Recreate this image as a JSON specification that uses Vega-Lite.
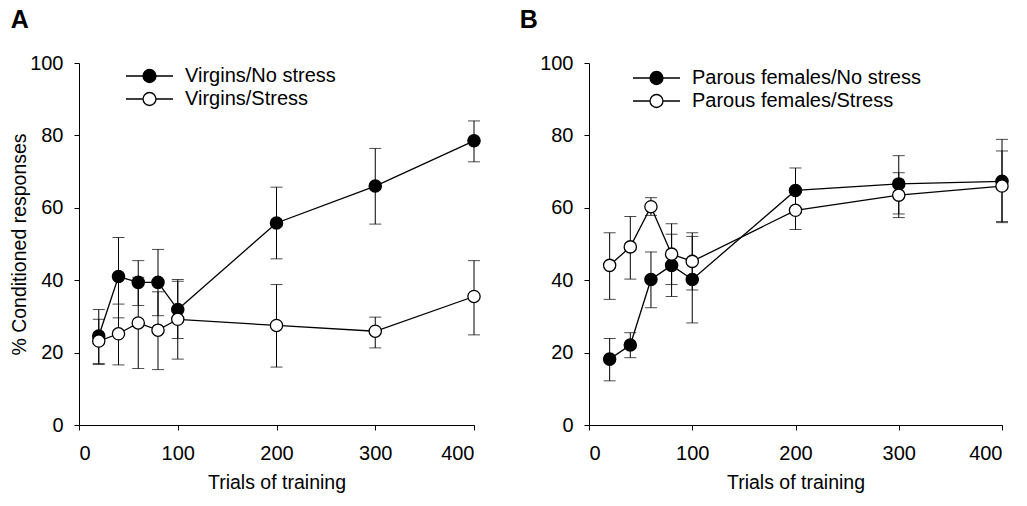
{
  "$schema": "https://vega.github.io/schema/vega-lite/v6.json",
  "padding": {"left": 9, "top": 8, "right": 5, "bottom": 5},
  "background": "white",
  "datasets": {
    "A": [
      {"trials": 20, "group": "Virgins/No stress", "mean": 24.6, "lo": 17.0, "hi": 31.9},
      {"trials": 40, "group": "Virgins/No stress", "mean": 41.0, "lo": 29.6, "hi": 51.8},
      {"trials": 60, "group": "Virgins/No stress", "mean": 39.4, "lo": 33.0, "hi": 45.4},
      {"trials": 80, "group": "Virgins/No stress", "mean": 39.4, "lo": 30.2, "hi": 48.5},
      {"trials": 100, "group": "Virgins/No stress", "mean": 31.9, "lo": 23.9, "hi": 39.7},
      {"trials": 200, "group": "Virgins/No stress", "mean": 55.8, "lo": 45.9, "hi": 65.7},
      {"trials": 300, "group": "Virgins/No stress", "mean": 66.0, "lo": 55.5, "hi": 76.4},
      {"trials": 400, "group": "Virgins/No stress", "mean": 78.5, "lo": 72.7, "hi": 84.0},
      {"trials": 20, "group": "Virgins/Stress", "mean": 23.2, "lo": 16.7, "hi": 29.2},
      {"trials": 40, "group": "Virgins/Stress", "mean": 25.2, "lo": 16.6, "hi": 33.4},
      {"trials": 60, "group": "Virgins/Stress", "mean": 28.2, "lo": 15.6, "hi": 40.8},
      {"trials": 80, "group": "Virgins/Stress", "mean": 26.2, "lo": 15.3, "hi": 36.8},
      {"trials": 100, "group": "Virgins/Stress", "mean": 29.2, "lo": 18.2, "hi": 40.2},
      {"trials": 200, "group": "Virgins/Stress", "mean": 27.5, "lo": 16.0, "hi": 38.8},
      {"trials": 300, "group": "Virgins/Stress", "mean": 25.9, "lo": 21.3, "hi": 29.8},
      {"trials": 400, "group": "Virgins/Stress", "mean": 35.5, "lo": 24.9, "hi": 45.4}
    ],
    "B": [
      {"trials": 20, "group": "Parous females/No stress", "mean": 18.2, "lo": 12.2, "hi": 23.9},
      {"trials": 40, "group": "Parous females/No stress", "mean": 22.1, "lo": 18.6, "hi": 25.5},
      {"trials": 60, "group": "Parous females/No stress", "mean": 40.2, "lo": 32.4, "hi": 47.8},
      {"trials": 80, "group": "Parous females/No stress", "mean": 44.1, "lo": 35.5, "hi": 52.7},
      {"trials": 100, "group": "Parous females/No stress", "mean": 40.2, "lo": 28.2, "hi": 52.1},
      {"trials": 200, "group": "Parous females/No stress", "mean": 64.8, "lo": 58.6, "hi": 71.0},
      {"trials": 300, "group": "Parous females/No stress", "mean": 66.6, "lo": 58.3, "hi": 74.4},
      {"trials": 400, "group": "Parous females/No stress", "mean": 67.3, "lo": 55.9, "hi": 78.9},
      {"trials": 20, "group": "Parous females/Stress", "mean": 44.1, "lo": 34.7, "hi": 53.1},
      {"trials": 40, "group": "Parous females/Stress", "mean": 49.2, "lo": 40.3, "hi": 57.6},
      {"trials": 60, "group": "Parous females/Stress", "mean": 60.3, "lo": 57.9, "hi": 62.8},
      {"trials": 80, "group": "Parous females/Stress", "mean": 47.2, "lo": 38.8, "hi": 55.6},
      {"trials": 100, "group": "Parous females/Stress", "mean": 45.2, "lo": 37.3, "hi": 53.1},
      {"trials": 200, "group": "Parous females/Stress", "mean": 59.3, "lo": 54.0, "hi": 64.6},
      {"trials": 300, "group": "Parous females/Stress", "mean": 63.5, "lo": 57.3, "hi": 69.7},
      {"trials": 400, "group": "Parous females/Stress", "mean": 66.0, "lo": 56.2, "hi": 75.7}
    ]
  },
  "config": {
    "view": {"stroke": null},
    "font": "Liberation Sans",
    "axis": {
      "grid": false,
      "domainColor": "black",
      "domainWidth": 1,
      "tickColor": "black",
      "tickSize": 5,
      "labelFont": "Liberation Sans",
      "labelFontSize": 20,
      "labelColor": "black",
      "titleFont": "Liberation Sans",
      "titleFontSize": 19.5,
      "titleFontWeight": "normal",
      "titleColor": "black"
    },
    "axisX": {"labelPadding": 13, "titlePadding": 10},
    "axisY": {"labelPadding": 11, "titlePadding": 0},
    "legend": {
      "title": null,
      "orient": "none",
      "symbolType": "M -1.96 0 L -0.54 0 M 0.54 0 L 1.96 0 M -0.54 0 A 0.54 0.54 0 1 0 0.54 0 A 0.54 0.54 0 1 0 -0.54 0 Z",
      "symbolSize": 576,
      "symbolStrokeColor": "black",
      "symbolStrokeWidth": 1.3,
      "labelFont": "Liberation Sans",
      "labelFontSize": 20,
      "labelColor": "black",
      "labelOffset": 22.5,
      "labelLimit": 500,
      "rowPadding": 0
    },
    "title": {"font": "Liberation Sans", "fontSize": 25, "fontWeight": "bold", "color": "black", "anchor": "start", "frame": "bounds"}
  },
  "resolve": {"scale": {"fill": "independent"}, "legend": {"fill": "independent"}},
  "spacing": 36,
  "hconcat": [
    {
      "width": 395,
      "height": 362,
      "title": {"text": "A", "dx": 1, "offset": 20},
      "data": {"name": "A"},
      "encoding": {
        "x": {"field": "trials", "type": "quantitative", "scale": {"domain": [0, 400], "nice": false}, "axis": {"values": [0, 100, 200, 300, 400], "title": "Trials of training"}}
      },
      "layer": [
        {
          "mark": {"type": "rule", "color": "black", "strokeWidth": 1},
          "encoding": {
            "y": {"field": "lo", "type": "quantitative", "scale": {"domain": [0, 100], "nice": false}, "axis": {"values": [0, 20, 40, 60, 80, 100], "title": "% Conditioned responses"}},
            "y2": {"field": "hi"}
          }
        },
        {
          "mark": {"type": "tick", "orient": "horizontal", "color": "black", "size": 12, "thickness": 1},
          "encoding": {"y": {"field": "lo", "type": "quantitative", "axis": {"title": "% Conditioned responses"}}}
        },
        {
          "mark": {"type": "tick", "orient": "horizontal", "color": "black", "size": 12, "thickness": 1},
          "encoding": {"y": {"field": "hi", "type": "quantitative", "axis": {"title": "% Conditioned responses"}}}
        },
        {
          "mark": {"type": "line", "color": "black", "strokeWidth": 1.3},
          "encoding": {"y": {"field": "mean", "type": "quantitative", "axis": {"title": "% Conditioned responses"}}, "detail": {"field": "group", "type": "nominal"}}
        },
        {
          "mark": {"type": "point", "shape": "circle", "filled": true, "stroke": "black", "strokeWidth": 1.3, "size": 150, "opacity": 1},
          "encoding": {
            "y": {"field": "mean", "type": "quantitative", "axis": {"title": "% Conditioned responses"}},
            "fill": {"field": "group", "type": "nominal", "scale": {"domain": ["Virgins/No stress", "Virgins/Stress"], "range": ["black", "white"]}, "legend": {"legendX": 57.5, "legendY": 0}}
          }
        }
      ]
    },
    {
      "width": 413,
      "height": 362,
      "title": {"text": "B", "dx": -20, "offset": 20},
      "data": {"name": "B"},
      "encoding": {
        "x": {"field": "trials", "type": "quantitative", "scale": {"domain": [0, 400], "nice": false}, "axis": {"values": [0, 100, 200, 300, 400], "title": "Trials of training"}}
      },
      "layer": [
        {
          "mark": {"type": "rule", "color": "black", "strokeWidth": 1},
          "encoding": {
            "y": {"field": "lo", "type": "quantitative", "scale": {"domain": [0, 100], "nice": false}, "axis": {"values": [0, 20, 40, 60, 80, 100], "title": null}},
            "y2": {"field": "hi"}
          }
        },
        {
          "mark": {"type": "tick", "orient": "horizontal", "color": "black", "size": 12, "thickness": 1},
          "encoding": {"y": {"field": "lo", "type": "quantitative", "axis": {"title": null}}}
        },
        {
          "mark": {"type": "tick", "orient": "horizontal", "color": "black", "size": 12, "thickness": 1},
          "encoding": {"y": {"field": "hi", "type": "quantitative", "axis": {"title": null}}}
        },
        {
          "mark": {"type": "line", "color": "black", "strokeWidth": 1.3},
          "encoding": {"y": {"field": "mean", "type": "quantitative", "axis": {"title": null}}, "detail": {"field": "group", "type": "nominal"}}
        },
        {
          "mark": {"type": "point", "shape": "circle", "filled": true, "stroke": "black", "strokeWidth": 1.3, "size": 150, "opacity": 1},
          "encoding": {
            "y": {"field": "mean", "type": "quantitative", "axis": {"title": null}},
            "fill": {"field": "group", "type": "nominal", "scale": {"domain": ["Parous females/No stress", "Parous females/Stress"], "range": ["black", "white"]}, "legend": {"legendX": 54.5, "legendY": 2}}
          }
        }
      ]
    }
  ]
}
